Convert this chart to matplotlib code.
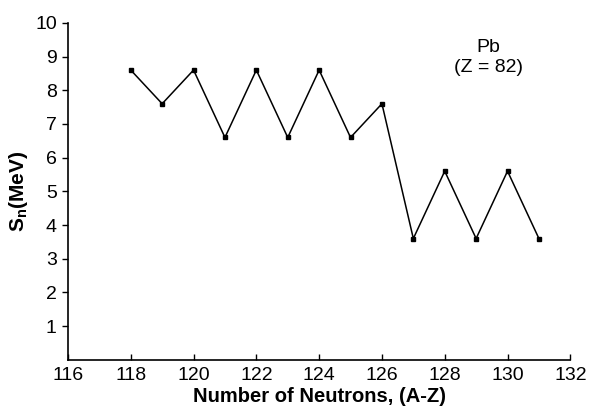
import numpy as np
import matplotlib
matplotlib.use("Agg")
import matplotlib.pyplot as plt

plt.rcParams["font.family"] = ["Liberation Sans", "DejaVu Sans"]
plt.rcParams["mathtext.fontset"] = "custom"
plt.rcParams["mathtext.rm"] = "Liberation Sans"
plt.rcParams["mathtext.bf"] = "Liberation Sans:bold"

# neutron number and one-neutron separation energy for Pb
neutrons = [118, 119, 120, 121, 122, 123, 124, 125, 126, 127, 128, 129, 130, 131]
sn_mev = [8.6, 7.6, 8.6, 6.6, 8.6, 6.6, 8.6, 6.6, 7.6, 3.6, 5.6, 3.6, 5.6, 3.6]
x_ticks = [116, 118, 120, 122, 124, 126, 128, 130, 132]
y_ticks = [1, 2, 3, 4, 5, 6, 7, 8, 9, 10]

fig = plt.figure(figsize=(5.91, 4.16), dpi=100)
ax = fig.add_axes([0.115, 0.135, 0.85, 0.81])

ax.plot(neutrons, sn_mev, color="black", lw=1.1, marker="s", ms=2.5)

ax.set_xlim(116, 132)
ax.set_ylim(0, 10)
ax.set_xticks(x_ticks)
ax.set_yticks(y_ticks)
ax.tick_params(axis="x", direction="in", length=4, width=1, labelsize=14, pad=5)
ax.tick_params(axis="y", direction="out", length=4, width=1, labelsize=14, pad=4)
ax.minorticks_off()

for side in ["top", "right"]:
    ax.spines[side].set_visible(False)
for side in ["left", "bottom"]:
    ax.spines[side].set_linewidth(1.2)

ax.set_xlabel("Number of Neutrons, (A-Z)", fontsize=14.5, fontweight="bold", labelpad=2)
ax.set_ylabel(r"$\mathbf{S_n(MeV)}$", fontsize=15, labelpad=4)

ax.text(129.4, 8.98, "Pb\n(Z = 82)", ha="center", va="center", fontsize=14,
        linespacing=1.25)

fig.savefig("out.png", dpi=100)
